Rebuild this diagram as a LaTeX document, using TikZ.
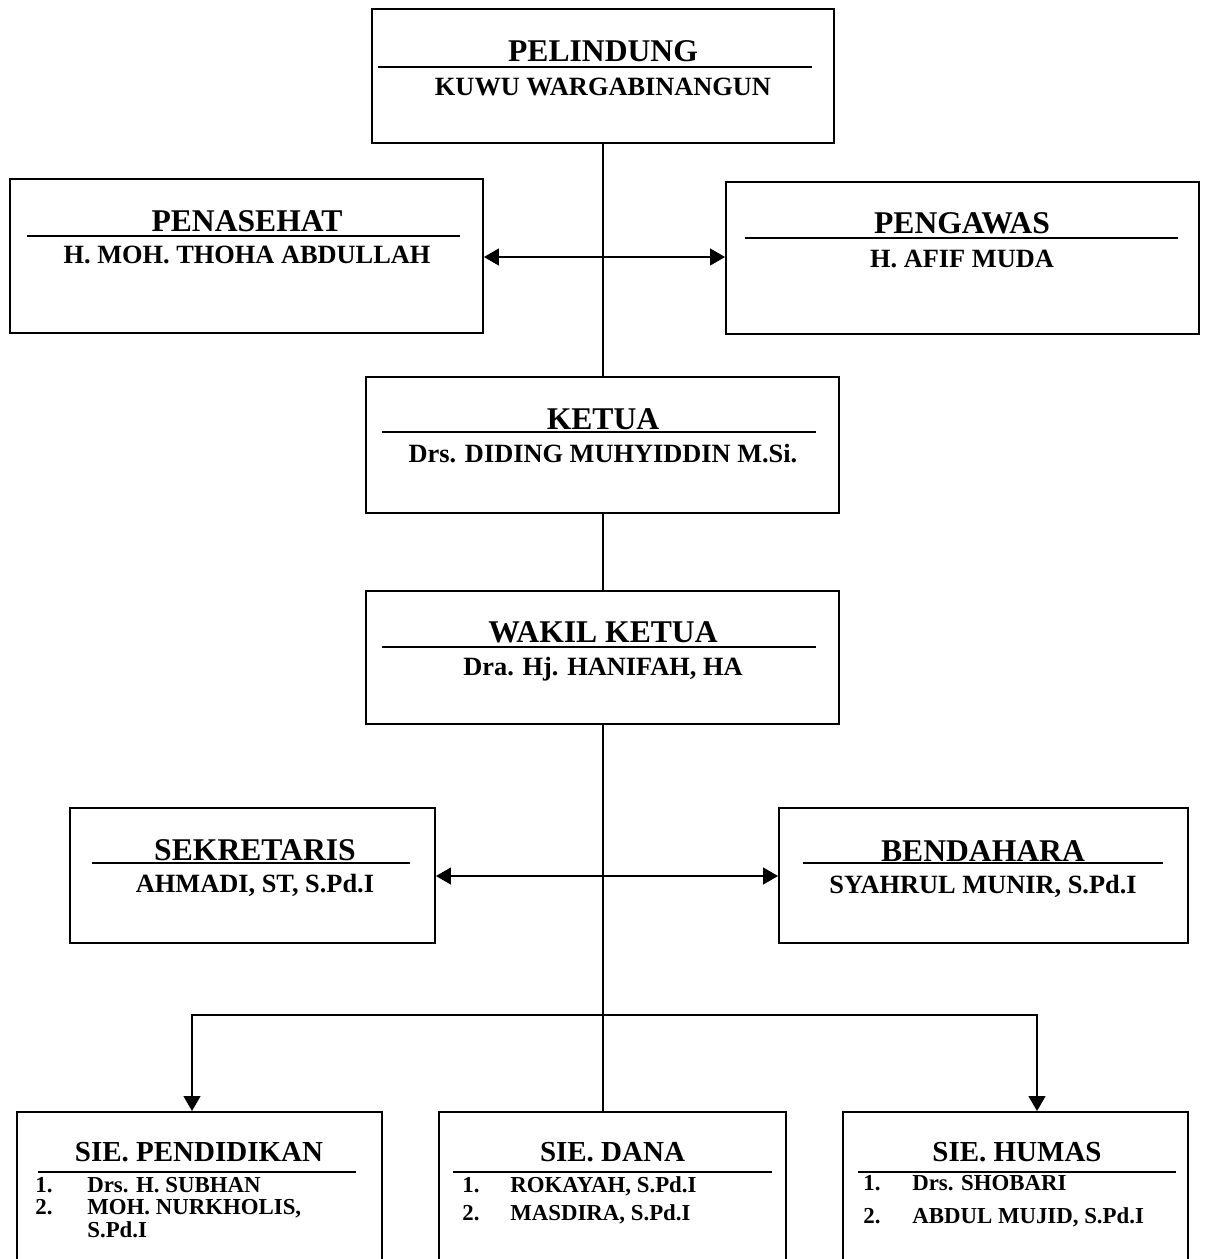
\documentclass[tikz,border=0pt]{standalone}
\usepackage{fontspec}
\setmainfont{Liberation Serif}
\usetikzlibrary{arrows.meta}
\tikzset{
    kotak/.style={draw,line width=1.1pt,inner sep=0pt},
    judul/.style={anchor=base,inner sep=0pt,font=\fontsize{18}{20}\selectfont\bfseries},
    nama/.style={anchor=base,inner sep=0pt,font=\fontsize{15}{17}\selectfont\bfseries},
    seksi/.style={anchor=base,inner sep=0pt,font=\fontsize{16.5}{18}\selectfont\bfseries},
    daftar/.style={anchor=base west,inner sep=0pt,font=\fontsize{13}{15}\selectfont\bfseries},
    garis/.style={line width=.8pt},
    hubung/.style={line width=1.1pt},
    panah/.style={hubung,-{Triangle[length=8.5pt,width=9.5pt]}},
    duapanah/.style={hubung,{Triangle[length=8.5pt,width=9.5pt]}-{Triangle[length=8.5pt,width=9.5pt]}}
}
\begin{document}
\begin{tikzpicture}[x=0.02cm,y=-0.02cm]
    \useasboundingbox[fill=white] (0,0) rectangle (1205,1259);

    % Kotak-kotak pengurus
    \node[kotak,minimum width=9.24cm,minimum height=2.68cm] (pelindung) at (603,76) {};
    \node[kotak,minimum width=9.46cm,minimum height=3.08cm] (penasehat) at (246.5,256) {};
    \node[kotak,minimum width=9.46cm,minimum height=3.04cm] (pengawas) at (962.5,258) {};
    \node[kotak,minimum width=9.46cm,minimum height=2.72cm] (ketua) at (602.5,445) {};
    \node[kotak,minimum width=9.46cm,minimum height=2.66cm] (wakil) at (602.5,657.5) {};
    \node[kotak,minimum width=7.3cm,minimum height=2.7cm] (sekretaris) at (252.5,875.5) {};
    \node[kotak,minimum width=8.18cm,minimum height=2.7cm] (bendahara) at (983.5,875.5) {};
    \node[kotak,minimum width=7.3cm,minimum height=3.26cm] (pendidikan) at (199.5,1193.5) {};
    \node[kotak,minimum width=6.94cm,minimum height=3.26cm] (dana) at (612.5,1193.5) {};
    \node[kotak,minimum width=6.9cm,minimum height=3.26cm] (humas) at (1015.5,1193.5) {};

    % Judul, garis bawah dan nama
    \node[judul] (pelindung-judul) at (603,61) {PELINDUNG};
    \draw[garis] (378,67) -- (812,67);
    \node[nama] (pelindung-nama) at (603,95) {KUWU WARGABINANGUN};

    \node[judul] (penasehat-judul) at (247,231) {PENASEHAT};
    \draw[garis] (27,236) -- (460,236);
    \node[nama] (penasehat-nama) at (247,263) {H. MOH. THOHA ABDULLAH};

    \node[judul] (pengawas-judul) at (962,233) {PENGAWAS};
    \draw[garis] (745,238) -- (1178,238);
    \node[nama] (pengawas-nama) at (962,267) {H. AFIF MUDA};

    \node[judul] (ketua-judul) at (603,429) {KETUA};
    \draw[garis] (382,432) -- (816,432);
    \node[nama] (ketua-nama) at (603,462) {Drs. DIDING MUHYIDDIN M.Si.};

    \node[judul] (wakil-judul) at (603,642) {WAKIL KETUA};
    \draw[garis] (382,647) -- (816,647);
    \node[nama] (wakil-nama) at (603,675) {Dra. Hj. HANIFAH, HA};

    \node[judul] (sekretaris-judul) at (255,860) {SEKRETARIS};
    \draw[garis] (92,863) -- (410,863);
    \node[nama] (sekretaris-nama) at (255,892) {AHMADI, ST, S.Pd.I};

    \node[judul] (bendahara-judul) at (983,861) {BENDAHARA};
    \draw[garis] (803,863) -- (1163,863);
    \node[nama] (bendahara-nama) at (983,893) {SYAHRUL MUNIR, S.Pd.I};

    % Seksi-seksi
    \node[seksi] (pendidikan-judul) at (199,1161) {SIE. PENDIDIKAN};
    \draw[garis] (38,1172) -- (356,1172);
    \node[daftar] (pendidikan-n1) at (35,1192) {1.};
    \node[daftar] (pendidikan-a1) at (87,1192) {Drs. H. SUBHAN};
    \node[daftar] (pendidikan-n2) at (35,1214) {2.};
    \node[daftar] (pendidikan-a2) at (87,1214) {MOH. NURKHOLIS,};
    \node[daftar] (pendidikan-a3) at (87,1237) {S.Pd.I};

    \node[seksi] (dana-judul) at (612.5,1161) {SIE. DANA};
    \draw[garis] (453,1172) -- (772,1172);
    \node[daftar] (dana-n1) at (462,1192) {1.};
    \node[daftar] (dana-a1) at (510,1192) {ROKAYAH, S.Pd.I};
    \node[daftar] (dana-n2) at (462,1220) {2.};
    \node[daftar] (dana-a2) at (510,1220) {MASDIRA, S.Pd.I};

    \node[seksi] (humas-judul) at (1017,1161) {SIE. HUMAS};
    \draw[garis] (858,1172) -- (1176,1172);
    \node[daftar] (humas-n1) at (863,1190) {1.};
    \node[daftar] (humas-a1) at (912,1190) {Drs. SHOBARI};
    \node[daftar] (humas-n2) at (863,1223) {2.};
    \node[daftar] (humas-a2) at (912,1223) {ABDUL MUJID, S.Pd.I};

    % Garis penghubung
    \coordinate (cabang) at (603,1015);
    \coordinate (kiri) at (192,1015);
    \coordinate (kanan) at (1037,1015);
    \draw[hubung] (pelindung.south) -- (pelindung.south |- ketua.north);
    \draw[duapanah] (penasehat.east |- 0,257) -- (pengawas.west |- 0,257);
    \draw[hubung] (cabang |- ketua.south) -- (cabang |- wakil.north);
    \draw[duapanah] (sekretaris.east |- 0,876) -- (bendahara.west |- 0,876);

    \draw[hubung] (cabang |- wakil.south) -- (cabang |- dana.north);
    \draw[panah] (cabang) -- (kiri) -- (kiri |- pendidikan.north);
    \draw[panah] (cabang) -- (kanan) -- (kanan |- humas.north);
\end{tikzpicture}
\end{document}
